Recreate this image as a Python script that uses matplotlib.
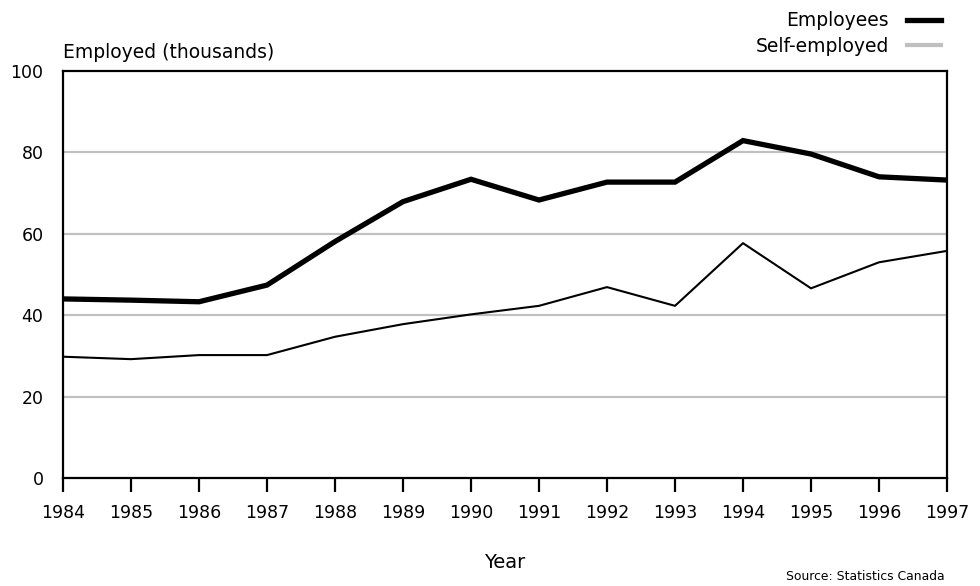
import matplotlib
matplotlib.use("Agg")
import matplotlib.pyplot as plt
from matplotlib.lines import Line2D

plt.rcParams['font.family'] = ['DejaVu Sans']

years = [1984, 1985, 1986, 1987, 1988, 1989, 1990, 1991, 1992, 1993, 1994, 1995, 1996, 1997]
employees = [44.0, 43.7, 43.3, 47.4, 58.1, 67.9, 73.4, 68.3, 72.7, 72.7, 82.9, 79.6, 74.0, 73.2]
self_employed = [29.8, 29.2, 30.2, 30.2, 34.7, 37.8, 40.2, 42.3, 46.9, 42.3, 57.7, 46.6, 53.0, 55.8]
y_ticks = [0, 20, 40, 60, 80, 100]

fig = plt.figure(figsize=(9.8, 5.86), dpi=100)
ax = fig.add_axes([63 / 980, 1 - 478 / 586, (947 - 63) / 980, (478 - 71) / 586])

# light horizontal gridlines at the inner ticks
for v in y_ticks[1:-1]:
    ax.axhline(v, color='#c0c0c0', lw=1.6, zorder=1)

ax.plot(years, employees, color='black', lw=3.8, solid_joinstyle='miter', zorder=3)
ax.plot(years, self_employed, color='black', lw=1.5, zorder=3)

ax.set_xlim(years[0], years[-1])
ax.set_ylim(0, 100)
ax.set_xticks(years)
ax.set_xticklabels([str(y) for y in years], fontsize=12.5)
ax.set_yticks(y_ticks)
ax.set_yticklabels([str(v) for v in y_ticks], fontsize=12.5)
ax.tick_params(axis='x', direction='out', length=10, width=1.6, pad=9)
ax.tick_params(axis='y', length=0, pad=14)
for s in ax.spines.values():
    s.set_linewidth(1.6)
    s.set_color('black')

ax.set_xlabel('Year', fontsize=14, labelpad=22)
ax.text(0, 1.023, 'Employed (thousands)', transform=ax.transAxes,
        fontsize=13.5, ha='left', va='bottom')

handles = [Line2D([], [], color='black', lw=3.8),
           Line2D([], [], color='#c0c0c0', lw=3.0)]
fig.legend(handles, ['Employees', 'Self-employed'], loc='upper right',
           bbox_to_anchor=(950 / 980, 1 - 2 / 586), frameon=False,
           markerfirst=False, fontsize=13.5, handlelength=1.8,
           handletextpad=0.95, labelspacing=0.33, borderpad=0)

fig.text(945 / 980, 1 - 577 / 586, 'Source: Statistics Canada',
         fontsize=8.9, ha='right', va='center')

fig.savefig('out.png', dpi=100)
